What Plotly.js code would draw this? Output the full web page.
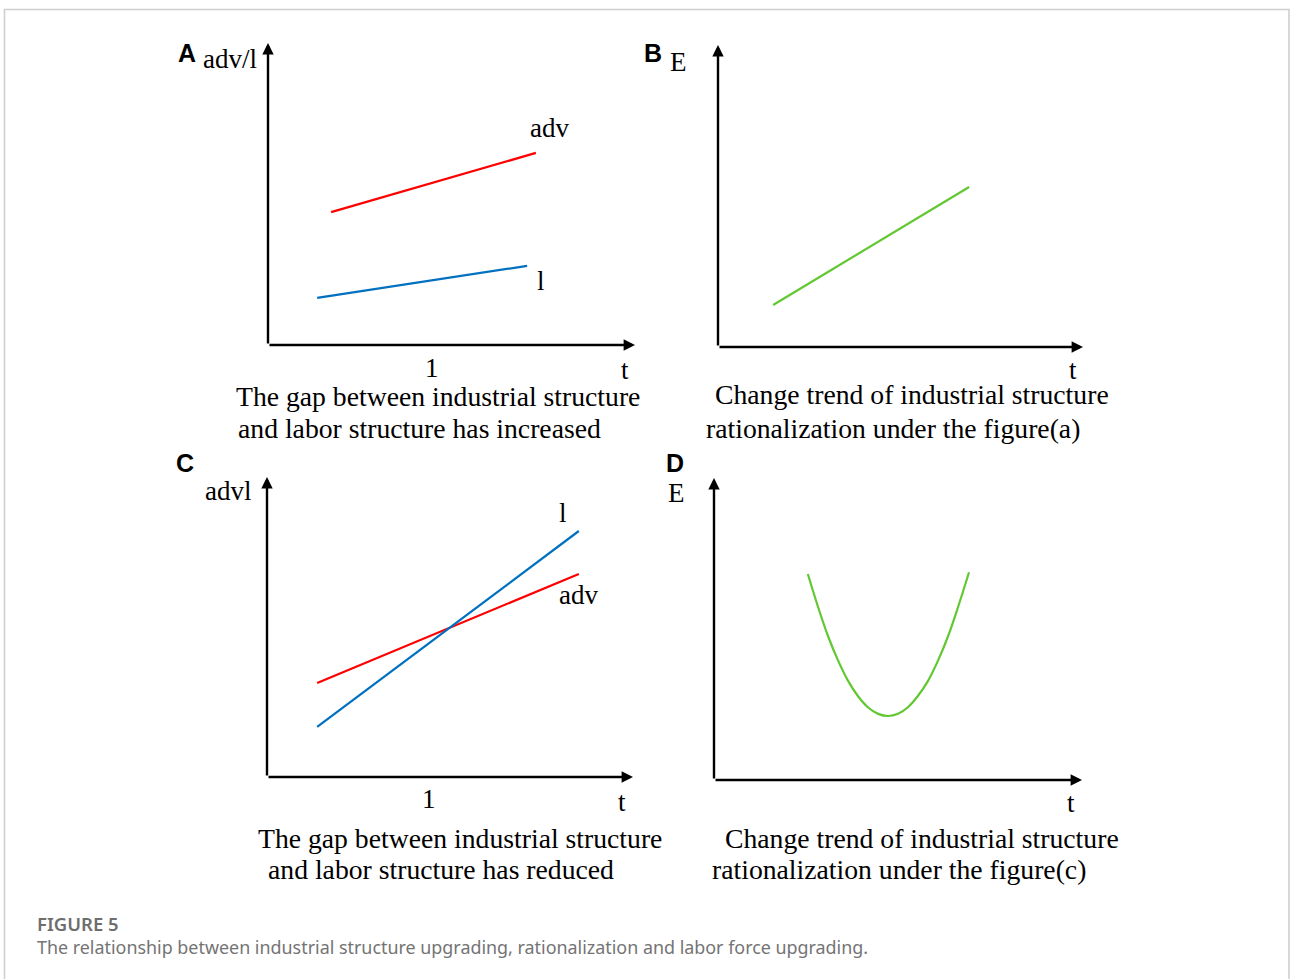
<!DOCTYPE html>
<html>
<head>
<meta charset="utf-8">
<script src="https://cdn.plot.ly/plotly-3.0.1.min.js"></script>
<style>html,body{margin:0;padding:0;background:#fff;}#chart{width:1290px;height:979px;}</style>
</head>
<body>
<div id="chart"></div>
<script>
// ---- data (arbitrary units, axes run 0..10) ----
const advA_t = [1.72, 7.30];
const advA_v = [4.40, 6.36];
const lA_t = [1.34, 7.06];
const lA_v = [1.56, 2.62];

const eB_t = [1.51, 6.88];
const eB_v = [1.39, 5.30];

const advC_t = [1.37, 8.52];
const advC_v = [3.13, 6.77];
const lC_t = [1.37, 8.52];
const lC_v = [1.67, 8.20];

const eD_t = [2.55, 2.83, 3.10, 3.37, 3.64, 3.91, 4.18, 4.46, 4.73, 5.00, 5.27, 5.54, 5.82, 6.09, 6.36, 6.63, 6.93];
const eD_v = [6.82, 5.72, 4.76, 3.96, 3.29, 2.78, 2.41, 2.19, 2.12, 2.19, 2.41, 2.78, 3.29, 3.96, 4.76, 5.72, 6.88];

const tickValA = [4.47];
const tickValC = [4.43];
const tickText = ['1'];

const panelLetters = ['A', 'B', 'C', 'D'];
const yTitles = ['adv/l', 'E', 'advl', 'E'];
const xTitle = 't';
const captionsTop = ['The gap between industrial structure', 'Change trend of industrial structure',
                     'The gap between industrial structure', 'Change trend of industrial structure'];
const captionsBottom = ['and labor structure has increased', 'rationalization under the figure(a)',
                        'and labor structure has reduced', 'rationalization under the figure(c)'];
const figLabel = 'FIGURE 5';
const figCaption = 'The relationship between industrial structure upgrading, rationalization and labor force upgrading.';

// ---- layout helpers ----
const W = 1290, H = 979;
const fx = p => p / W;
const fy = p => 1 - p / H;
const serif = 'Liberation Serif, Times New Roman, serif';
const RED = '#ff0000', BLUE = '#0070c0', GREEN = '#62c832';

// panel pixel boxes: x0 (y-axis), x1 (x-axis arrow tip), yb (x-axis), yt (y-axis arrow tip)
const boxes = [
  {x0: 268, x1: 635, yb: 345, yt: 43},
  {x0: 718, x1: 1083, yb: 347, yt: 45},
  {x0: 267, x1: 633, yb: 777, yt: 477},
  {x0: 714, x1: 1082, yb: 780, yt: 478}
];

const layout = {
  width: W, height: H,
  margin: {l: 0, r: 0, t: 0, b: 0},
  paper_bgcolor: '#ffffff', plot_bgcolor: 'rgba(0,0,0,0)',
  showlegend: false,
  annotations: [],
  shapes: [{
    type: 'path', xref: 'paper', yref: 'paper',
    path: `M ${fx(4.5)},${fy(1000)} L ${fx(4.5)},${fy(9.5)} L ${fx(1289)},${fy(9.5)} L ${fx(1289)},${fy(1000)}`,
    line: {color: '#cfcfcf', width: 1.6}
  }]
};

boxes.forEach((b, i) => {
  const n = i === 0 ? '' : String(i + 1);
  const axCommon = {range: [0, 10], showgrid: false, zeroline: false, showline: false,
                    showticklabels: false, ticks: '', fixedrange: true};
  layout['xaxis' + n] = Object.assign({}, axCommon, {domain: [fx(b.x0), fx(b.x1)], anchor: 'y' + n});
  layout['yaxis' + n] = Object.assign({}, axCommon, {domain: [fy(b.yb), fy(b.yt)], anchor: 'x' + n});
  const xr = 'x' + n, yr = 'y' + n;
  // axis arrows
  layout.annotations.push({xref: xr, yref: yr, axref: xr, ayref: yr, x: 10, y: 0, ax: 0, ay: 0,
    text: '', showarrow: true, arrowhead: 2, arrowsize: 0.95, arrowwidth: 2.4, arrowcolor: '#000', standoff: 0});
  layout.annotations.push({xref: xr, yref: yr, axref: xr, ayref: yr, x: 0, y: 10, ax: 0, ay: 0,
    text: '', showarrow: true, arrowhead: 2, arrowsize: 0.95, arrowwidth: 2.4, arrowcolor: '#000', standoff: 0});
});

function txt(t, px, py, size, opts) {
  return Object.assign({xref: 'paper', yref: 'paper', x: fx(px), y: fy(py), text: t, showarrow: false,
    xanchor: 'center', yanchor: 'middle', font: {family: serif, size: size, color: '#000'}}, opts || {});
}
const sansBold = {family: 'Liberation Sans, Arial, sans-serif', size: 25, color: '#000', weight: 700};

// panel letters
[[187, 53], [653, 53], [185, 463], [675, 463]].forEach((p, i) => {
  layout.annotations.push(txt('<b>' + panelLetters[i] + '</b>', p[0], p[1], 25, {font: sansBold}));
});
// y-axis titles
[[230, 59], [678, 62], [228, 491], [676, 493]].forEach((p, i) => {
  layout.annotations.push(txt(yTitles[i], p[0], p[1], 27));
});
// x-axis titles
[[625, 370], [1073, 370], [622, 802], [1071, 803]].forEach(p => {
  layout.annotations.push(txt(xTitle, p[0], p[1], 27));
});
// tick labels "1" under x axis (data coords on x)
layout.annotations.push({xref: 'x', yref: 'paper', x: tickValA[0], y: fy(368), text: tickText[0], showarrow: false,
  xanchor: 'center', yanchor: 'middle', font: {family: serif, size: 27, color: '#000'}});
layout.annotations.push({xref: 'x3', yref: 'paper', x: tickValC[0], y: fy(799), text: tickText[0], showarrow: false,
  xanchor: 'center', yanchor: 'middle', font: {family: serif, size: 27, color: '#000'}});
// series labels
layout.annotations.push(txt('adv', 549, 128, 27));
layout.annotations.push(txt('l', 541, 281, 27));
layout.annotations.push(txt('l', 563, 513, 27));
layout.annotations.push(txt('adv', 578, 595, 27));
// panel captions
[[438, 396], [912, 395], [460, 838], [922, 838]].forEach((p, i) => {
  layout.annotations.push(txt(captionsTop[i], p[0], p[1], 27.7));
});
[[419, 428], [893, 428], [441, 869], [899, 869]].forEach((p, i) => {
  layout.annotations.push(txt(captionsBottom[i], p[0], p[1], 27.7));
});
// figure caption
layout.annotations.push(txt(figLabel, 35, 923, 18.5, {xanchor: 'left',
  font: {family: 'Noto Sans, Open Sans, sans-serif', size: 18.5, color: '#6e6e6e', weight: 600}}));
layout.annotations.push(txt(figCaption, 35, 947, 17.9, {xanchor: 'left',
  font: {family: 'Noto Sans, Open Sans, sans-serif', size: 17.9, color: '#747474'}}));

const line = (c) => ({color: c, width: 2.2});
const data = [
  {x: advA_t, y: advA_v, xaxis: 'x', yaxis: 'y', mode: 'lines', line: line(RED), name: 'adv'},
  {x: lA_t, y: lA_v, xaxis: 'x', yaxis: 'y', mode: 'lines', line: line(BLUE), name: 'l'},
  {x: eB_t, y: eB_v, xaxis: 'x2', yaxis: 'y2', mode: 'lines', line: line(GREEN), name: 'E'},
  {x: advC_t, y: advC_v, xaxis: 'x3', yaxis: 'y3', mode: 'lines', line: line(RED), name: 'adv'},
  {x: lC_t, y: lC_v, xaxis: 'x3', yaxis: 'y3', mode: 'lines', line: line(BLUE), name: 'l'},
  {x: eD_t, y: eD_v, xaxis: 'x4', yaxis: 'y4', mode: 'lines', line: {color: GREEN, width: 2.2, shape: 'spline'}, name: 'E'}
];

Plotly.newPlot('chart', data, layout, {displayModeBar: false, staticPlot: true});
</script>
</body>
</html>
